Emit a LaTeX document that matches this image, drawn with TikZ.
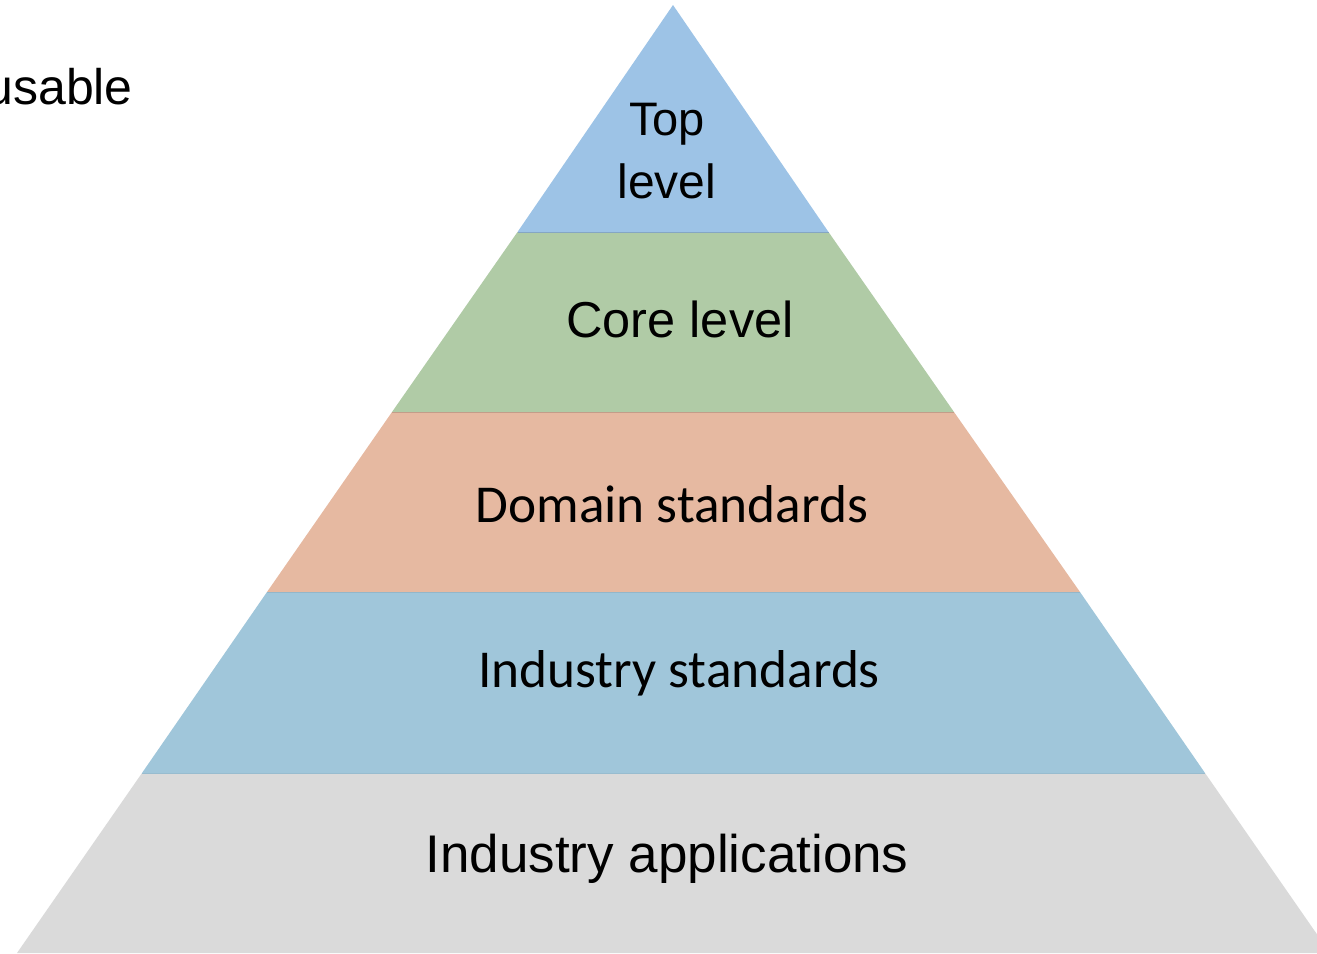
\documentclass[tikz,border=0pt]{standalone}
\usepackage{fontspec}
\setmainfont{Carlito}
\newfontfamily\aptosalt{Liberation Sans}
\definecolor{ctop}{HTML}{9DC3E6}
\definecolor{ccore}{HTML}{B0CBA6}
\definecolor{cdom}{HTML}{E6B9A1}
\definecolor{cind}{HTML}{A0C6DA}
\definecolor{capp}{HTML}{DADADA}
\begin{document}
\begin{tikzpicture}[x=1pt,y=-1pt,
  lbl/.style={anchor=base,font=\fontsize{53.3}{64}\selectfont,text=black,inner sep=0pt,align=center},
  albl/.style={anchor=base,text=black,inner sep=0pt,align=center},
  sep/.style={line width=1pt}]
\useasboundingbox (0,0) rectangle (1317,953);
\begin{scope}
\clip (0,0) rectangle (1317,953);
\coordinate (apex) at (673,5);
\coordinate (l1) at (517.5,232); \coordinate (r1) at (828.5,232);
\coordinate (l2) at (392,412); \coordinate (r2) at (954,412);
\coordinate (l3) at (267,592); \coordinate (r3) at (1080,592);
\coordinate (l4) at (142,773); \coordinate (r4) at (1205,773);
\coordinate (l5) at (17,953); \coordinate (r5) at (1330,953);
\fill[ctop] (apex) -- (r1) -- (l1) -- cycle;
\fill[ccore] (l1) -- (r1) -- (r2) -- (l2) -- cycle;
\fill[cdom] (l2) -- (r2) -- (r3) -- (l3) -- cycle;
\fill[cind] (l3) -- (r3) -- (r4) -- (l4) -- cycle;
\fill[capp] (l4) -- (r4) -- (r5) -- (l5) -- cycle;
\draw[sep,color=ctop!85!black] (l1) -- (r1);
\draw[sep,color=cdom!85!black] (l2) -- (r2);
\draw[sep,color=cind!92!black] (l3) -- (r3);
\draw[sep,color=cind!95!black] (l4) -- (r4);
\end{scope}
\node[albl,font=\aptosalt\fontsize{47}{56}\selectfont] (top1) at (667,135) {Top};
\node[albl,font=\aptosalt\fontsize{48}{56}\selectfont] (top2) at (667,198) {level};
\node[albl,font=\aptosalt\fontsize{50.5}{60}\selectfont] (core) at (680,337) {Core level};
\node[lbl] (dom) at (672,522) {Domain standards};
\node[lbl] (ind) at (679,687) {Industry standards};
\node[albl,font=\aptosalt\fontsize{53}{64}\selectfont] (app) at (667,872) {Industry applications};
\node[albl,anchor=base east,font=\aptosalt\fontsize{50}{60}\selectfont] (us) at (133,104) {usable};
\end{tikzpicture}
\end{document}
